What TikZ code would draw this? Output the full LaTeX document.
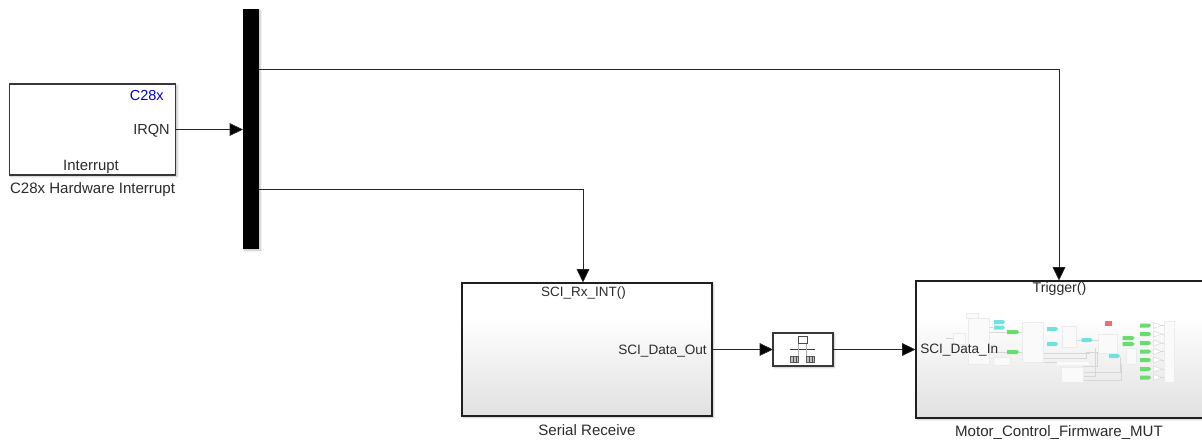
\documentclass[tikz,border=0pt]{standalone}
\usepackage{fontspec}
\setmainfont{Liberation Sans}
\usetikzlibrary{arrows.meta,shadows.blur}
\pgfdeclareverticalshading{subsys}{100bp}{
  color(0bp)=(black!19); color(12bp)=(black!16); color(50bp)=(black!4); color(62bp)=(white); color(100bp)=(white)}
\definecolor{wireclr}{gray}{0.15}
\definecolor{labelclr}{gray}{0.17}
\definecolor{thumbfill}{gray}{0.98}
\definecolor{thumbedge}{gray}{0.92}
\definecolor{thumbwire}{gray}{0.84}
\definecolor{thumbcyan}{RGB}{110,225,225}
\definecolor{thumbgreen}{RGB}{105,220,110}
\definecolor{thumbred}{RGB}{240,110,110}
\tikzset{
  x=0.75pt,y=-0.75pt,
  softshadow/.style={blur shadow={shadow blur steps=5,shadow xshift=1pt,shadow yshift=-1pt,shadow blur radius=1.5pt,shadow opacity=25}},
  blockbase/.style={inner sep=0pt,outer sep=0pt,softshadow},
  thinblock/.style={blockbase,draw=black!78,fill=white,line width=0.95pt},
  subsystem/.style={blockbase,draw=black!88,shading=subsys,line width=1.7pt},
  barblock/.style={blockbase,draw=none,fill=black},
  txt/.style={text=labelclr,inner sep=0pt},
  wire/.style={draw=wireclr,line width=0.55pt},
  arrowwire/.style={wire,-{Triangle[length=10pt,width=9.5pt,fill=black]}},
  tbox/.style={fill=thumbfill,draw=thumbedge,line width=0.4pt,inner sep=0pt},
  twire/.style={draw=thumbwire,line width=0.35pt},
}
\begin{document}
\begin{tikzpicture}
\useasboundingbox (0,0) rectangle (1202,445);
\clip (0,0) rectangle (1202,445);
% blocks
\node[thinblock,minimum width=125pt,minimum height=68.25pt] (hwi) at (92.5,129.5) {};
\node[barblock,minimum width=12pt,minimum height=180pt] (bar) at (251,129) {};
\node[subsystem,minimum width=187.5pt,minimum height=99.75pt] (serial) at (587,349.5) {};
\node[thinblock,line width=1.2pt,minimum width=45pt,minimum height=24.75pt] (proto) at (803,349.5) {};
\node[subsystem,minimum width=225pt,minimum height=103pt] (mut) at (1066,349.5) {};
% connector ends
\coordinate (bout1) at (259,69);
\coordinate (bout2) at (259,189);
\coordinate (rxport) at (583,282.5);
\coordinate (trigport) at (1059,280.5);
\coordinate (dinport) at (915.5,349.5);
\coordinate (doutport) at (712,349.5);
% connectors
\draw[arrowwire] (hwi.east |- hwi.center) -- (bar.west |- hwi.center);
\draw[arrowwire] (bout1) -| (trigport);
\draw[arrowwire] (bout2) -| (rxport);
\draw[arrowwire] (doutport) -- (proto.west);
\draw[arrowwire] (proto.east) -- (dinport);
% protocol icon
\draw[draw=black!70,fill=white,line width=0.4pt] (798.5,336) rectangle (807,343);
\draw[black!75,line width=0.5pt] (790,349) -- (815,349);
\draw[black!30,line width=0.4pt] (798.5,344) -- (798.5,357);
\draw[black!30,line width=0.4pt] (806.5,344) -- (806.5,357);
\foreach \xa in {790.5,806.5}{
  \draw[draw=black!65,fill=black!25,line width=0.4pt] (\xa,356) rectangle ++(8,6);
  \draw[black!70,line width=0.4pt] (\xa+2.7,356) -- ++(0,6) (\xa+5.3,356) -- ++(0,6);
}
% thumbnail wires
\draw[twire] (946,338.5) -- (953,338.5) (989,327) -- (993,327) (989,332) -- (1007,332) (989,352) -- (1007,352);
\draw[twire] (1019,332) -- (1022,332) (1019,352) -- (1022,352);
\draw[twire] (1043,353) -- (1090,353) (1043,358) -- (1086,358) -- (1086,352) -- (1098,352);
\draw[twire] (1043,362) -- (1086,362) (1076,340) -- (1082,340) (1092,340) -- (1098,340);
\draw[twire] (1083,372) -- (1120,372) -- (1120,357) (1083,366) -- (1097,366) -- (1097,352);
\draw[twire] (1083,380) -- (1121,380) -- (1121,364);
\draw[twire] (1083,376) -- (1095,376) -- (1095,348);
% thumbnail blocks
\node[tbox,minimum width=9pt,minimum height=3.75pt] (t0) at (972,315.5) {};
\node[tbox,minimum width=9pt,minimum height=8.25pt] (t1) at (959,338.5) {};
\node[tbox,minimum width=15.75pt,minimum height=34.5pt] (t2) at (978.5,341) {};
\node[tbox,minimum width=12.75pt,minimum height=6pt] (t3) at (1001.5,361) {};
\node[tbox,minimum width=15.75pt,minimum height=30pt] (t4) at (1032.5,342) {};
\node[tbox,minimum width=10.5pt,minimum height=15.75pt] (t5) at (1069,336.5) {};
\node[tbox,draw=none,minimum width=23.5pt,minimum height=2pt] (t7) at (1073,363.5) {};
\node[tbox,minimum width=16.5pt,minimum height=11.25pt] (t6) at (1072,374.5) {};
\node[tbox,minimum width=14.25pt,minimum height=14.25pt] (t8) at (1107.5,343.5) {};
\node[tbox,minimum width=7.5pt,minimum height=12pt] (t9) at (1131,356) {};
\node[tbox,minimum width=7.5pt,minimum height=45.75pt] (t10) at (1169,351.5) {};
\node[fill=thumbred,inner sep=0pt,minimum width=5pt,minimum height=3.75pt] (tr) at (1108.5,323.5) {};
% thumbnail tags
\foreach \xx/\yy in {999.5/322,999.5/327.5,1052.5/329,1052.5/344,1087/340,1114.5/356}{
  \fill[thumbcyan] (\xx-5.5,\yy-2) -- (\xx+3.5,\yy-2) -- (\xx+5.5,\yy) -- (\xx+3.5,\yy+2) -- (\xx-5.5,\yy+2) -- cycle;}
\foreach \xx/\yy in {1013/332,1013/352,1128.5/338,1128.5/344}{
  \fill[thumbgreen] (\xx-6,\yy-2) -- (\xx+4,\yy-2) -- (\xx+6,\yy) -- (\xx+4,\yy+2) -- (\xx-6,\yy+2) -- cycle;}
\foreach \yy in {325.5,334,343,351.5,360,369,377.5}{
  \fill[thumbgreen] (1140,\yy-2) -- (1149,\yy-2) -- (1151,\yy) -- (1149,\yy+2) -- (1140,\yy+2) -- cycle;
  \draw[fill=white,draw=thumbwire,line width=0.35pt] (1153.5,\yy-3) -- (1161.5,\yy) -- (1153.5,\yy+3) -- cycle;
  \draw[twire] (1161.5,\yy) -- (1164,\yy);
}
% block texts
\node[txt,text=blue!85!black,anchor=east,font=\fontsize{10.9pt}{13pt}\selectfont] (c28) at (164,95) {C28x};
\node[txt,anchor=east,font=\fontsize{10.9pt}{13pt}\selectfont] (irqn) at (170,131) {IRQN};
\node[txt,font=\fontsize{11.2pt}{13pt}\selectfont] (intr) at (91,166.5) {Interrupt};
\node[txt,font=\fontsize{11.3pt}{13pt}\selectfont] (hwilab) at (92.5,190) {C28x Hardware Interrupt};
\node[txt,font=\fontsize{10.1pt}{12pt}\selectfont] (rxint) at (583.5,293) {SCI\_Rx\_INT()};
\node[txt,font=\fontsize{10.2pt}{12pt}\selectfont,anchor=east] (dout) at (707,351) {SCI\_Data\_Out};
\node[txt,font=\fontsize{11.3pt}{13pt}\selectfont] (srlab) at (587,430) {Serial Receive};
\node[txt,font=\fontsize{10.6pt}{12pt}\selectfont] (trig) at (1059.5,289) {Trigger()};
\node[txt,font=\fontsize{10.2pt}{12pt}\selectfont,anchor=west] (din) at (920,350.5) {SCI\_Data\_In};
\node[txt,font=\fontsize{11.3pt}{13pt}\selectfont] (mutlab) at (1059,432.5) {Motor\_Control\_Firmware\_MUT};
\end{tikzpicture}
\end{document}
